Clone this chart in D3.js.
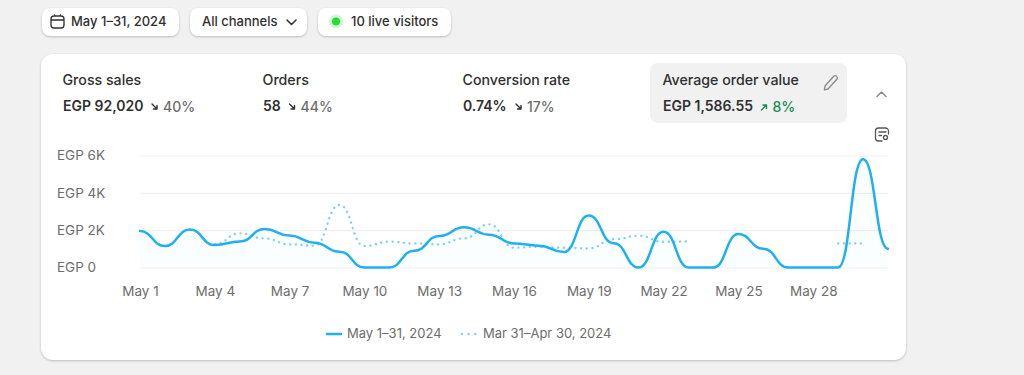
<!DOCTYPE html>
<html lang="en">
<head>
<meta charset="utf-8">
<script src="https://d3js.org/d3.v7.min.js"></script>
<style>
    html, body { margin: 0; background: #f1f1f1; overflow: hidden; }
    svg { display: block; font-family: Inter, sans-serif; }
    .shadow { filter: drop-shadow(0 1px 1px rgba(0,0,0,.22)); }
    .grid .domain { display: none; }
    .icon { fill: none; stroke-linecap: round; stroke-linejoin: round; }
</style>
</head>
<body>
<script>
    var days = d3.range(1, 32).map(function(d) { return 'May ' + d; });
    var tickLabels = ['May 1', 'May 4', 'May 7', 'May 10', 'May 13', 'May 16', 'May 19', 'May 22', 'May 25', 'May 28'];
    var yTicks = [0, 2000, 4000, 6000];
    var yLabels = ['EGP 0', 'EGP 2K', 'EGP 4K', 'EGP 6K'];

    var currentValues = [1950, 1150, 2030, 1200, 1390, 2060, 1710, 1330, 850, 0, 0, 900, 1690, 2150, 1760, 1290,
        1170, 830, 2780, 1300, 0, 1920, 0, 0, 1790, 1000, 0, 0, 0, 5800, 1000];
    var previousValues = [1290, null, null, 1260, 1830, 1560, 1240, 1170, 3350, 1150, 1380, 1290, 1240, 1560, 2310, 1060,
        1110, 1060, 1020, 1510, 1700, 1380, 1400, null, null, null, null, null, 1290, 1290, null];

    var metricNames = ['Gross sales', 'Orders', 'Conversion rate', 'Average order value'];
    var metricValues = ['EGP 92,020', '58', '0.74%', 'EGP 1,586.55'];
    var metricDeltas = ['40%', '44%', '17%', '8%'];
    var metricUp = [false, false, false, true];
    var legendLabels = ['May 1–31, 2024', 'Mar 31–Apr 30, 2024'];

    var width = 1024, height = 375;
    var blue = '#1fb0f2', ink = '#303030', grey = '#6d6d6d';

    // rounded step curve: flat tangent at each point, s-shaped change halfway between points
    function StepRounded(context) { this._context = context; }
    StepRounded.prototype = {
        areaStart: function() { this._line = 0; },
        areaEnd: function() { this._line = NaN; },
        lineStart: function() { this._point = 0; },
        lineEnd: function() {
            if (this._line || (this._line !== 0 && this._point === 1)) this._context.closePath();
            this._line = 1 - this._line;
        },
        point: function(x, y) {
            x = +x; y = +y;
            if (this._point === 0) {
                this._point = 1;
                if (this._line) this._context.lineTo(x, y); else this._context.moveTo(x, y);
            } else {
                this._point = 2;
                var mid = (this._x + x) / 2;
                this._context.bezierCurveTo(mid, this._y, mid, y, x, y);
            }
            this._x = x; this._y = y;
        }
    };
    function curveStepRounded(context) { return new StepRounded(context); }

    var svg = d3.select('body').append('svg').attr('width', width).attr('height', height);

    // top buttons
    var buttons = [
        {x: 42, w: 137, text: 'May 1–31, 2024', tx: 71},
        {x: 190, w: 117, text: 'All channels', tx: 202},
        {x: 318, w: 133, text: '10 live visitors', tx: 351}
    ];
    buttons.forEach(function(b) {
        svg.append('rect').attr('class', 'shadow').attr('x', b.x).attr('y', 8).attr('width', b.w).attr('height', 28)
            .attr('rx', 8).attr('fill', '#fff');
        svg.append('text').attr('x', b.tx).attr('y', 26).attr('font-size', 13).attr('font-weight', 500)
            .attr('fill', ink).text(b.text);
    });
    // calendar icon
    svg.append('path').attr('class', 'icon').attr('stroke', ink).attr('stroke-width', 1.3)
        .attr('d', 'M54 16h7a3 3 0 0 1 3 3v6a3 3 0 0 1-3 3h-7a3 3 0 0 1-3-3v-6a3 3 0 0 1 3-3zM51 20h13M54.5 15v1M60.5 15v1');
    // chevron
    svg.append('path').attr('class', 'icon').attr('stroke', ink).attr('stroke-width', 1.5)
        .attr('d', 'M287 20l4.5 4.5l4.5-4.5');
    // live dot
    svg.append('circle').attr('cx', 336).attr('cy', 21.5).attr('r', 7).attr('fill', '#d3f8d7');
    svg.append('circle').attr('cx', 336).attr('cy', 21.5).attr('r', 4).attr('fill', '#22e033');

    // card
    svg.append('rect').attr('class', 'shadow').attr('x', 41).attr('y', 54).attr('width', 865).attr('height', 306)
        .attr('rx', 12).attr('fill', '#fff');
    svg.append('rect').attr('x', 650).attr('y', 63).attr('width', 197).attr('height', 60)
        .attr('rx', 8).attr('fill', '#f1f1f1');

    // metrics row
    var metricX = [62.5, 262.5, 462.5, 662.5];
    var deltaX = [152, 289.5, 516, 761.5];
    metricNames.forEach(function(name, i) {
        svg.append('text').attr('x', metricX[i]).attr('y', 85).attr('font-size', 14.2).attr('font-weight', 550)
            .attr('fill', ink).text(name);
        svg.append('text').attr('x', metricX[i] + 0.5).attr('y', 111).attr('font-size', 14).attr('font-weight', 600)
            .attr('fill', ink).text(metricValues[i]);
        var c = metricUp[i] ? '#0c8f54' : grey;
        var ax = deltaX[i];
        svg.append('path').attr('class', 'icon').attr('stroke', metricUp[i] ? c : ink).attr('stroke-width', 1.4)
            .attr('d', metricUp[i]
                ? 'M' + ax + ' 110l5-5M' + (ax + 1.5) + ' 105h3.5v3.5'
                : 'M' + ax + ' 104l5 5M' + (ax + 1.5) + ' 109h3.5v-3.5');
        svg.append('text').attr('x', ax + 11).attr('y', 112).attr('font-size', 14).attr('font-weight', 550)
            .attr('fill', c).text(metricDeltas[i]);
    });
    // pencil, collapse chevron, search-note icon
    svg.append('path').attr('class', 'icon').attr('stroke', '#8a8a8a').attr('stroke-width', 1.3)
        .attr('d', 'M825 86l9-10a2.2 2.2 0 0 1 3 3l-9 10l-3.6.8z');
    svg.append('path').attr('class', 'icon').attr('stroke', '#8a8a8a').attr('stroke-width', 1.5)
        .attr('d', 'M877 96.5l4.5-4.5l4.5 4.5');
    svg.append('path').attr('class', 'icon').attr('stroke', '#555').attr('stroke-width', 1.3)
        .attr('d', 'M882 141h-3.5a3 3 0 0 1-3-3v-7a3 3 0 0 1 3-3h7a3 3 0 0 1 3 3v3M879 132h7M879 135.500h2.500');
    svg.append('circle').attr('class', 'icon').attr('stroke', '#555').attr('stroke-width', 1.3)
        .attr('cx', 885.500).attr('cy', 137.500).attr('r', 2);

    // scales
    var x = d3.scalePoint().domain(days).range([140, 888]);
    var y = d3.scaleLinear().domain([0, 6000]).range([267.5, 155.5]);

    // y axis and grid
    var yAxis = svg.append('g').attr('class', 'grid').attr('transform', 'translate(140,0)')
        .call(d3.axisLeft(y).tickValues(yTicks).tickSize(-748)
            .tickFormat(function(d) { return yLabels[yTicks.indexOf(d)]; }));
    yAxis.selectAll('line').attr('stroke', '#efefef').attr('stroke-width', 1.2);
    yAxis.selectAll('text').attr('x', -83).attr('text-anchor', 'start').attr('font-size', 13.5)
        .attr('font-family', 'Inter, sans-serif').attr('fill', grey);

    // x axis
    var xAxis = svg.append('g').attr('transform', 'translate(0,267)')
        .call(d3.axisBottom(x).tickValues(tickLabels).tickSize(0).tickPadding(19));
    xAxis.select('.domain').remove();
    xAxis.selectAll('text').attr('font-size', 13.5).attr('font-family', 'Inter, sans-serif').attr('fill', grey);

    // lines
    var area = d3.area()
        .x(function(d, i) { return x(days[i]); })
        .y0(y(0))
        .y1(function(d) { return y(d); })
        .curve(curveStepRounded);
    var line = d3.line()
        .defined(function(d) { return d !== null; })
        .x(function(d, i) { return x(days[i]); })
        .y(function(d) { return y(d); })
        .curve(curveStepRounded);

    svg.append('path').attr('d', area(currentValues)).attr('fill', blue).attr('opacity', 0.015);
    svg.append('path').attr('d', line(previousValues)).attr('fill', 'none').attr('stroke', '#84d2f2')
        .attr('stroke-width', 2.4).attr('stroke-linecap', 'round').attr('stroke-dasharray', '0.1 5.6');
    svg.append('path').attr('d', line(currentValues)).attr('fill', 'none').attr('stroke', blue)
        .attr('stroke-width', 2.5).attr('stroke-linecap', 'round');

    // legend
    svg.append('line').attr('x1', 327).attr('x2', 341).attr('y1', 334).attr('y2', 334)
        .attr('stroke', blue).attr('stroke-width', 2.5).attr('stroke-linecap', 'round');
    svg.append('line').attr('x1', 462).attr('x2', 476).attr('y1', 334).attr('y2', 334)
        .attr('stroke', '#84d2f2').attr('stroke-width', 2.4).attr('stroke-linecap', 'round').attr('stroke-dasharray', '0.1 6.5');
    [347, 483].forEach(function(lx, i) {
        svg.append('text').attr('x', lx).attr('y', 338).attr('font-size', 13).attr('fill', grey).text(legendLabels[i]);
    });
</script>
</body>
</html>
